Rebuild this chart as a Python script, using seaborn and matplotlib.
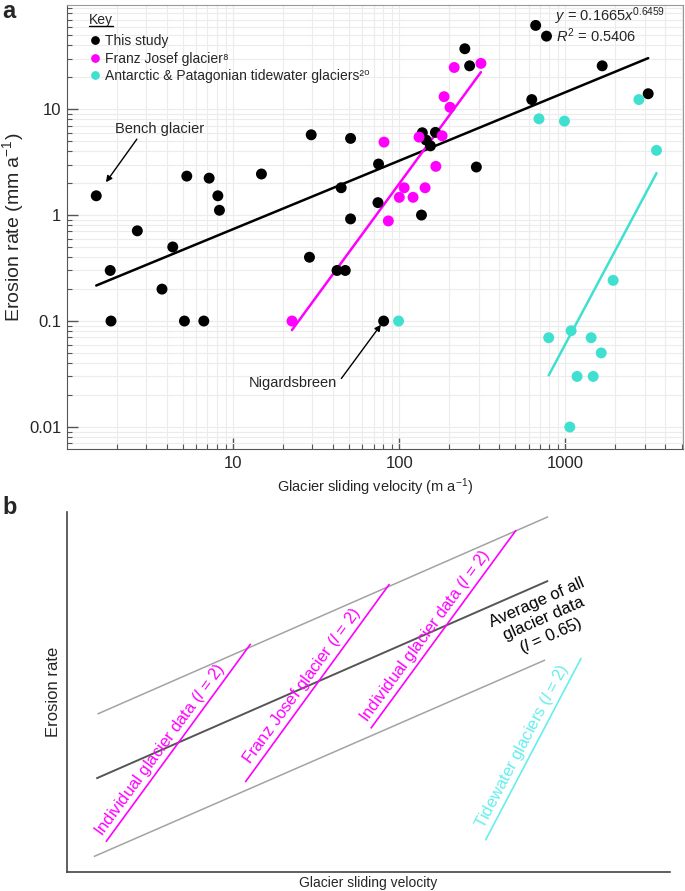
import numpy as np
import pandas as pd
import seaborn as sns
import matplotlib.pyplot as plt
from matplotlib.lines import Line2D
from matplotlib.ticker import LogLocator, NullFormatter

# ---- panel a: values (velocity m/a, erosion mm/a) ----
groups = ['This study', 'Franz Josef glacier\u2078',
          'Antarctic & Patagonian tidewater glaciers\u00b2\u2070']
colors = ['#000000', '#ff00ff', '#40e0d0']

study_vel = [1.5, 1.82, 1.84, 2.65, 3.73, 4.33, 5.09, 6.66, 5.26, 7.17, 8.09, 8.27,
             14.8, 29.5, 50.9, 44.7, 50.9, 28.8, 42.2, 47.3, 75, 74.4, 80.5, 136,
             137.6, 145, 154, 165, 248, 265, 291, 662, 769, 627, 1664, 3148]
study_ero = [1.52, 0.30, 0.10, 0.71, 0.20, 0.50, 0.10, 0.10, 2.33, 2.23, 1.52, 1.11,
             2.44, 5.72, 5.29, 1.81, 0.92, 0.40, 0.30, 0.30, 3.03, 1.31, 0.10, 1.0,
             5.98, 5.1, 4.5, 6.03, 37.1, 25.6, 2.84, 61.6, 48.8, 12.3, 25.6, 13.96]
fj_vel = [22.6, 80.9, 85.9, 100, 107, 121, 131.5, 143, 166, 181, 186, 202, 214, 310]
fj_ero = [0.10, 4.88, 0.88, 1.47, 1.81, 1.47, 5.44, 1.81, 2.88, 5.6, 13.1, 10.4, 24.7, 27.0]
tw_vel = [99, 693, 793, 986, 1062, 1082, 1175, 1428, 1469, 1642, 1937, 2768, 3533]
tw_ero = [0.10, 8.1, 0.0696, 7.7, 0.010, 0.081, 0.030, 0.0696, 0.030, 0.050, 0.242, 12.3, 4.08]

# power law fits: erosion = a * velocity**b
fit_a = [0.1665, 1.04e-4, 9.2e-11]
fit_b = [0.6459, 2.14, 2.94]
fit_lo = [min(study_vel), min(fj_vel), 793]
fit_hi = [max(study_vel), max(fj_vel), max(tw_vel)]

x_ticks = [10, 100, 1000]
x_ticklabels = ['10', '100', '1000']
y_ticks = [0.01, 0.1, 1, 10]
y_ticklabels = ['0.01', '0.1', '1', '10']

# ---- panel b: schematic, segments in axes fractions ----
seg_kind = ['bound', 'mean', 'bound', 'glacier', 'glacier', 'glacier', 'tide']
seg_x0 = [0.051, 0.049, 0.045, 0.065, 0.296, 0.504, 0.694]
seg_x1 = [0.798, 0.798, 0.793, 0.305, 0.535, 0.745, 0.853]
seg_y0 = [0.438, 0.259, 0.042, 0.083, 0.249, 0.398, 0.087]
seg_y1 = [0.986, 0.808, 0.588, 0.633, 0.799, 0.949, 0.594]

lab_seg = [3, 4, 5, 6]
lab_text = ['Individual glacier data ($l$ = 2)', 'Franz Josef glacier ($l$ = 2)',
            'Individual glacier data ($l$ = 2)', 'Tidewater glaciers ($l$ = 2)']
lab_t = [0.434, 0.454, 0.435, 0.485]

kind_color = {'bound': '#a3a3a3', 'mean': '#555555', 'glacier': '#ff00ff', 'tide': '#66eeee'}
kind_lw = {'bound': 1.1, 'mean': 1.4, 'glacier': 1.2, 'tide': 1.2}

sns.set_style('ticks')
plt.rcParams['font.family'] = ['Liberation Sans', 'DejaVu Sans']
plt.rcParams['mathtext.fontset'] = 'custom'
plt.rcParams['mathtext.rm'] = 'Liberation Sans'
plt.rcParams['mathtext.it'] = 'Liberation Sans:italic'
plt.rcParams['mathtext.bf'] = 'Liberation Sans:bold'

W, H = 685, 891
fig = plt.figure(figsize=(W / 100, H / 100), dpi=100)

# ================= panel a =================
ax = fig.add_axes([67 / W, 1 - 449 / H, 616 / W, 444 / H])
ax.set_xscale('log')
ax.set_yscale('log')

pts = pd.DataFrame({
    'vel': study_vel + fj_vel + tw_vel,
    'ero': study_ero + fj_ero + tw_ero,
    'group': [groups[0]] * len(study_vel) + [groups[1]] * len(fj_vel) + [groups[2]] * len(tw_vel),
})
palette = dict(zip(groups, colors))

fit_rows = []
for g, a, b, lo, hi in zip(groups, fit_a, fit_b, fit_lo, fit_hi):
    xs = np.geomspace(lo, hi, 60)
    fit_rows.append(pd.DataFrame({'vel': xs, 'ero': a * xs ** b, 'group': g}))
fits = pd.concat(fit_rows, ignore_index=True)

sns.lineplot(data=fits, x='vel', y='ero', hue='group', hue_order=groups, palette=palette,
             estimator=None, sort=False, linewidth=1.8, legend=False, ax=ax)
sns.scatterplot(data=pts, x='vel', y='ero', hue='group', hue_order=groups, palette=palette,
                s=62, edgecolor='none', linewidth=0, ax=ax, zorder=3)

ax.set_xlim(1, 5100)
ax.set_ylim(0.0062, 96)
ax.set_xticks(x_ticks, x_ticklabels)
ax.set_yticks(y_ticks, y_ticklabels)
ax.xaxis.set_minor_locator(LogLocator(base=10, subs=np.arange(2, 10), numticks=20))
ax.yaxis.set_minor_locator(LogLocator(base=10, subs=np.arange(2, 10), numticks=20))
ax.xaxis.set_minor_formatter(NullFormatter())
ax.yaxis.set_minor_formatter(NullFormatter())
ax.tick_params(which='major', direction='in', length=8, width=1, color='#555555', labelsize=12)
ax.tick_params(axis='x', which='major', pad=5)
ax.tick_params(axis='y', which='major', pad=4)
ax.tick_params(which='minor', direction='in', length=3.5, width=0.8, color='#555555')
ax.grid(True, which='both', color='#ececec', linewidth=0.8)
ax.set_axisbelow(True)
for side in ['left', 'bottom']:
    ax.spines[side].set_color('#555555')
for side in ['top', 'right']:
    ax.spines[side].set_color('#999999')

ax.set_xlabel('Glacier sliding velocity (m a$^{-1}$)', fontsize=10.5, labelpad=4)
ax.set_ylabel('Erosion rate (mm a$^{-1}$)', fontsize=14, labelpad=2)

handles, labels = ax.get_legend_handles_labels()
leg = ax.legend(handles, labels, title='Key', loc='upper left', bbox_to_anchor=(0.036, 0.983),
                frameon=False, fontsize=10, title_fontsize=10, handlelength=0.8,
                handletextpad=0.35, labelspacing=0.24, borderpad=0, borderaxespad=0,
                alignment='left', markerscale=0.8)
leg._legend_box.sep = 5.5  # a bit more room under the "Key" title

ax.text(0.7925, 0.975, r'$y$ = 0.1665$x^{0.6459}$', transform=ax.transAxes,
        va='center', ha='left', fontsize=10.5)
ax.text(0.7945, 0.930, r'$R^2$ = 0.5406', transform=ax.transAxes,
        va='center', ha='left', fontsize=10.5)

arrow = dict(arrowstyle='-|>', color='black', lw=1, mutation_scale=9, shrinkA=0)
ax.annotate('Bench glacier', xy=(study_vel[0], study_ero[0]), xytext=(45.7, 48.2),
            textcoords='offset points', ha='center', va='center', fontsize=10.5,
            arrowprops=dict(arrow, shrinkB=12, relpos=(0.27, 0.0)))
ax.annotate('Nigardsbreen', xy=(study_vel[22], study_ero[22]), xytext=(-65.4, -44.9),
            textcoords='offset points', ha='center', va='center', fontsize=10.5,
            arrowprops=dict(arrow, shrinkB=3.3, relpos=(1.05, 0.85)))

fig.text(0.004, 0.9995, 'a', fontsize=17, fontweight='bold', va='top', ha='left')

# ================= panel b =================
ax2 = fig.add_axes([66.7 / W, 1 - 871.7 / H, 603.3 / W, 360 / H])
ax2.set_xlim(0, 1)
ax2.set_ylim(0, 1)
for k, x0, x1, y0, y1 in zip(seg_kind, seg_x0, seg_x1, seg_y0, seg_y1):
    ax2.plot([x0, x1], [y0, y1], color=kind_color[k], lw=kind_lw[k], solid_capstyle='butt')

axw, axh = 603.3, 360.0
for i, txt, t in zip(lab_seg, lab_text, lab_t):
    dx = (seg_x1[i] - seg_x0[i]) * axw
    dy = (seg_y1[i] - seg_y0[i]) * axh
    ang = np.arctan2(dy, dx)
    px = seg_x0[i] + t * (seg_x1[i] - seg_x0[i])
    py = seg_y0[i] + t * (seg_y1[i] - seg_y0[i])
    off = 11 * 0.72
    ax2.annotate(txt, xy=(px, py), xytext=(-np.sin(ang) * off, np.cos(ang) * off),
                 textcoords='offset points', rotation=np.degrees(ang), rotation_mode='anchor',
                 ha='center', va='center', fontsize=12, color=kind_color[seg_kind[i]])

mean_ang = np.degrees(np.arctan2((seg_y1[1] - seg_y0[1]) * axh, (seg_x1[1] - seg_x0[1]) * axw))
ax2.text(0.792, 0.698, 'Average of all\nglacier data\n($l$ = 0.65)', rotation=mean_ang,
         rotation_mode='anchor', ha='center', va='center', multialignment='center',
         linespacing=1.15, fontsize=12, color='black')

ax2.set_xticks([])
ax2.set_yticks([])
for side in ['top', 'right']:
    ax2.spines[side].set_visible(False)
for side in ['left', 'bottom']:
    ax2.spines[side].set_color('#444444')
    ax2.spines[side].set_linewidth(1.2)
ax2.set_xlabel('Glacier sliding velocity', fontsize=10, labelpad=3)
ax2.set_ylabel('Erosion rate', fontsize=12, labelpad=4)

fig.text(0.004, 1 - 496 / H, 'b', fontsize=17, fontweight='bold', va='top', ha='left')

# underline the legend title
fig.canvas.draw()
bb = leg.get_title().get_window_extent()
inv = fig.transFigure.inverted()
(x0f, y0f), (x1f, y1f) = inv.transform([(bb.x0, bb.y0), (bb.x1, bb.y1)])
fig.add_artist(Line2D([x0f, x1f], [y0f + 0.5 / H, y0f + 0.5 / H], color='black', lw=1))

fig.savefig('out.png', dpi=100)
